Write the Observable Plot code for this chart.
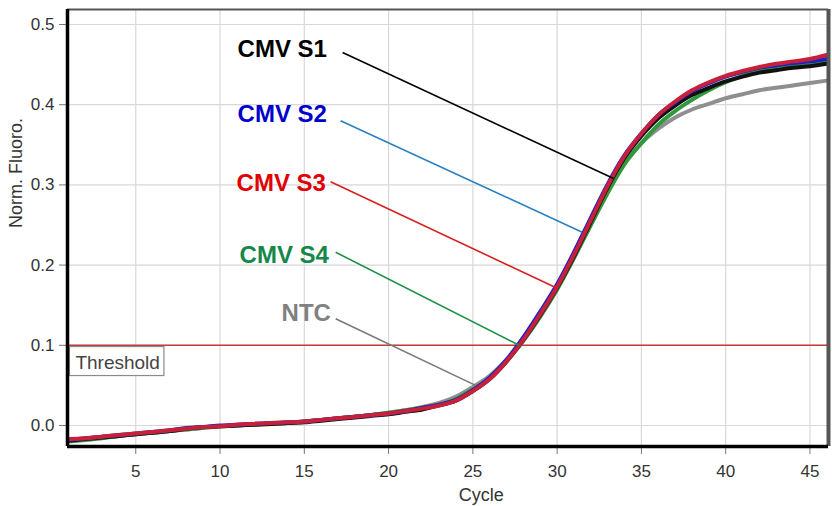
<!DOCTYPE html>
<html>
<head>
<meta charset="utf-8">
<script src="https://cdn.jsdelivr.net/npm/d3@7"></script>
<script src="https://cdn.jsdelivr.net/npm/@observablehq/plot@0.6"></script>
<style>
  html, body { margin: 0; padding: 0; background: #fff; }
  #chart { width: 832px; height: 506px; }
</style>
</head>
<body>
<div id="chart"></div>
<script>
// ---- data ----
const cycles = [1,2,3,4,5,6,7,8,9,10,11,12,13,14,15,16,17,18,19,20,21,22,23,24,25,26,27,28,29,30,31,32,33,34,35,36,37,38,39,40,41,42,43,44,45,46];

const cmvS1 = [-0.019,-0.017,-0.015,-0.013,-0.011,-0.009,-0.007,-0.004,-0.002,-0.001,0.000,0.001,0.002,0.003,0.004,0.006,0.008,0.010,0.012,0.014,0.017,0.020,0.025,0.031,0.043,0.058,0.080,0.107,0.138,0.172,0.211,0.254,0.297,0.334,0.361,0.383,0.399,0.412,0.421,0.429,0.435,0.440,0.443,0.446,0.448,0.451];
const cmvS2 = [-0.018,-0.016,-0.014,-0.012,-0.010,-0.008,-0.006,-0.003,-0.002,0.000,0.001,0.002,0.003,0.004,0.005,0.007,0.009,0.011,0.013,0.015,0.018,0.022,0.026,0.032,0.044,0.060,0.082,0.110,0.142,0.176,0.216,0.259,0.301,0.337,0.364,0.387,0.403,0.417,0.427,0.435,0.441,0.446,0.449,0.452,0.454,0.457];
const cmvS3 = [-0.017,-0.016,-0.014,-0.012,-0.010,-0.008,-0.006,-0.004,-0.002,-0.001,0.001,0.002,0.003,0.004,0.005,0.007,0.009,0.011,0.013,0.015,0.018,0.021,0.025,0.031,0.043,0.058,0.080,0.107,0.139,0.173,0.213,0.256,0.299,0.336,0.364,0.387,0.404,0.418,0.428,0.436,0.442,0.447,0.451,0.454,0.457,0.462];
const cmvS4 = [-0.020,-0.018,-0.016,-0.013,-0.011,-0.009,-0.007,-0.005,-0.003,-0.001,0.000,0.001,0.002,0.003,0.005,0.007,0.009,0.011,0.013,0.016,0.019,0.022,0.026,0.033,0.045,0.059,0.080,0.106,0.136,0.170,0.209,0.250,0.290,0.326,0.352,0.375,0.392,0.406,0.418,0.428,0.436,0.442,0.446,0.450,0.452,0.455];
const ntc   = [-0.019,-0.017,-0.015,-0.013,-0.011,-0.009,-0.007,-0.005,-0.003,-0.001,0.000,0.001,0.002,0.003,0.005,0.007,0.009,0.011,0.013,0.016,0.019,0.023,0.028,0.036,0.048,0.062,0.082,0.106,0.136,0.170,0.209,0.251,0.292,0.327,0.352,0.370,0.384,0.394,0.401,0.408,0.413,0.418,0.421,0.424,0.427,0.430];

const seriesNames  = ["CMV S1", "CMV S2", "CMV S3", "CMV S4", "NTC"];
const seriesValues = [cmvS1, cmvS2, cmvS3, cmvS4, ntc];
const curveColors  = ["#111111", "#1f1fc8", "#c8203a", "#2f9a3c", "#8f8f8f"];
const labelColors  = ["#000000", "#0000cc", "#e00000", "#14884a", "#808080"];
const leaderColors = ["#000000", "#2a80c0", "#d62020", "#1f8f4a", "#7a7a7a"];
const drawOrder    = [4, 3, 0, 1, 2];

// annotation anchors (data units: cycle, fluorescence)
const labelCycle  = [11.04, 11.04, 10.98, 11.16, 13.65];
const labelValue  = [0.460, 0.379, 0.293, 0.203, 0.130];
const leaderStartCycle = [17.27, 17.15, 16.56, 16.86, 16.86];
const leaderStartValue = [0.465, 0.380, 0.304, 0.216, 0.133];
const leaderEndCycle   = [33.35, 31.49, 29.91, 27.75, 25.16];
const leaderEndValue   = [0.308, 0.241, 0.172, 0.100, 0.050];

const xTicks = [5, 10, 15, 20, 25, 30, 35, 40, 45];
const yTicks = [0.0, 0.1, 0.2, 0.3, 0.4, 0.5];
const xDomain = [0.95, 46.1];
const yDomain = [-0.0262, 0.5187];
const threshold = 0.1;
const thresholdText = "Threshold";
const thresholdAt = [1.42, 0.071];
const xLabel = "Cycle";
const xLabelAt = 25.5;
const yLabel = "Norm. Fluoro.";

// ---- build ----
const curveMarks = drawOrder.map(i =>
  Plot.line(cycles.map((c, k) => ({cycle: c, value: seriesValues[i][k]})), {
    x: "cycle", y: "value", stroke: curveColors[i], strokeWidth: 4, curve: "monotone-x"
  })
);
const leaders = seriesNames.map((n, i) => ({
  x1: leaderStartCycle[i], y1: leaderStartValue[i], x2: leaderEndCycle[i], y2: leaderEndValue[i], color: leaderColors[i]
}));
const labels = seriesNames.map((n, i) => ({x: labelCycle[i], y: labelValue[i], text: n, color: labelColors[i]}));

const chart = Plot.plot({
  width: 832,
  height: 506,
  marginLeft: 67,
  marginRight: 4,
  marginTop: 9,
  marginBottom: 60,
  style: {fontFamily: "'Liberation Sans', Arial, sans-serif", fontSize: "17px", color: "#333", background: "#fff"},
  x: {domain: xDomain},
  y: {domain: yDomain},
  color: {type: "identity"},
  marks: [
    Plot.gridX(xTicks, {stroke: "#d8d8d8", strokeOpacity: 1, strokeWidth: 1.2}),
    Plot.gridY(yTicks, {stroke: "#d8d8d8", strokeOpacity: 1, strokeWidth: 1.2}),
    Plot.ruleY([threshold], {stroke: "#c43a3a", strokeWidth: 1.6}),
    ...curveMarks,
    Plot.link(leaders, {x1: "x1", y1: "y1", x2: "x2", y2: "y2", stroke: "color", strokeWidth: 1.6}),
    Plot.text(labels, {x: "x", y: "y", text: "text", fill: "color", fontSize: 24, fontWeight: "bold",
      textAnchor: "start", lineAnchor: "bottom"}),
    Plot.text([thresholdText], {x: () => thresholdAt[0], y: () => thresholdAt[1], text: d => d,
      textAnchor: "start", lineAnchor: "bottom", fontSize: 19, fill: "#444"}),
    Plot.axisX(xTicks, {tickSize: 8, tickPadding: 10, label: null, fontSize: 17, fill: "#333", stroke: "#777"}),
    Plot.axisY(yTicks, {tickSize: 8, tickPadding: 5, label: null, tickFormat: d3.format(".1f"), fontSize: 17, fill: "#333", stroke: "#777"}),
    Plot.text([xLabel], {x: () => xLabelAt, frameAnchor: "bottom", dy: 54, text: d => d, fontSize: 18, fill: "#333"}),
    Plot.text([yLabel], {frameAnchor: "left", dx: -51, rotate: -90, text: d => d, fontSize: 18, fill: "#333"}),
    Plot.ruleY([yDomain[1]], {stroke: "#555", strokeWidth: 2}),
    Plot.ruleX([xDomain[1]], {stroke: "#555", strokeWidth: 4}),
    Plot.ruleX([xDomain[0]], {stroke: "#000", strokeWidth: 3.5}),
    Plot.ruleY([yDomain[0]], {stroke: "#000", strokeWidth: 3.5})
  ]
});
document.getElementById("chart").appendChild(chart);

// box around threshold label
const svg = chart.tagName.toLowerCase() === "svg" ? chart : chart.querySelector("svg");
svg.querySelectorAll("text").forEach(t => {
  if (t.textContent === thresholdText) {
    const b = t.getBBox();
    const r = document.createElementNS("http://www.w3.org/2000/svg", "rect");
    r.setAttribute("x", b.x - 6);
    r.setAttribute("y", b.y - 5);
    r.setAttribute("width", b.width + 10);
    r.setAttribute("height", b.height + 8);
    r.setAttribute("fill", "#fff");
    r.setAttribute("stroke", "#8a8a8a");
    r.setAttribute("stroke-width", "1.2");
    const tr = t.getAttribute("transform");
    if (tr) r.setAttribute("transform", tr);
    t.parentNode.insertBefore(r, t);
  }
});
</script>
</body>
</html>
